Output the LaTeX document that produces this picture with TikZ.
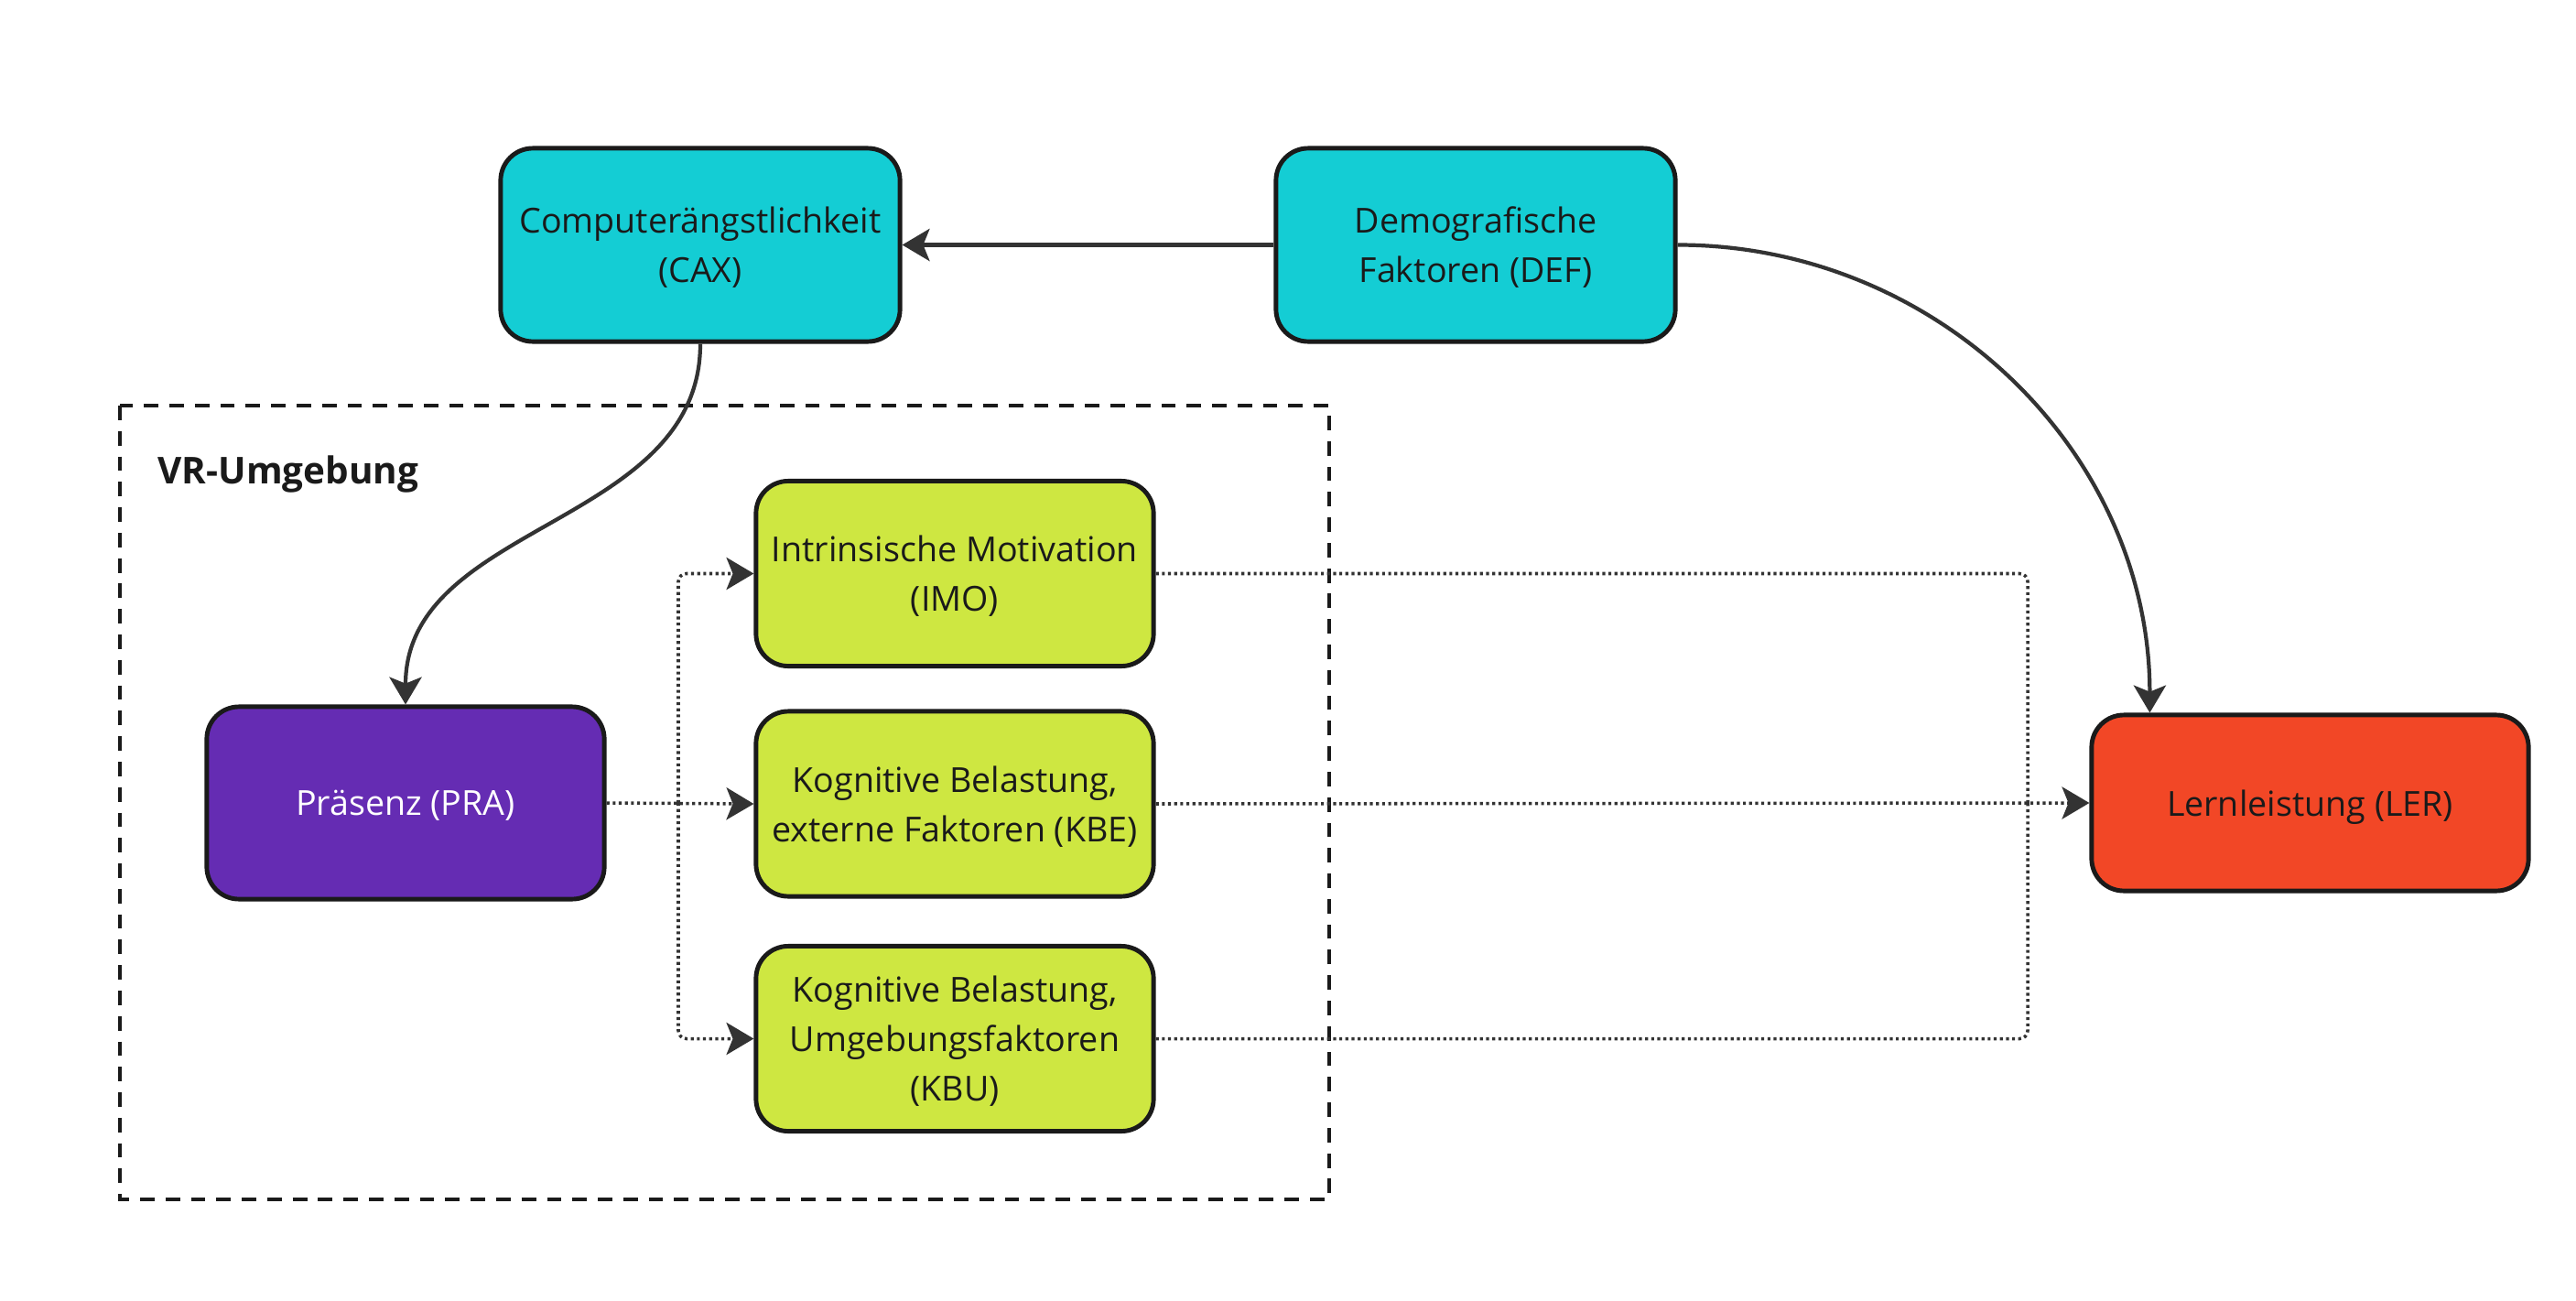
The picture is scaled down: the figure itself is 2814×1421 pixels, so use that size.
\documentclass[tikz,border=0pt]{standalone}
\usepackage{fontspec}
\setmainfont{Open Sans}
\usetikzlibrary{arrows.meta,calc}
\definecolor{cyanbox}{HTML}{14CDD4}
\definecolor{limebox}{HTML}{CEE741}
\definecolor{purplebox}{HTML}{652CB3}
\definecolor{redbox}{HTML}{F24726}
\definecolor{edge}{HTML}{1A1A1A}
\definecolor{conn}{HTML}{333333}
\begin{document}
\begin{tikzpicture}[x=0.01cm,y=-0.01cm,
  box/.style={draw=edge, line width=1.4pt, rounded corners=10pt, align=center,
    font=\fontsize{10.7pt}{15.4pt}\selectfont, text=edge, inner sep=0pt, text depth=0pt},
  cyanb/.style={box, fill=cyanbox, minimum width=4.36cm, minimum height=2.11cm},
  limeb/.style={box, fill=limebox, minimum width=4.34cm, minimum height=2.02cm},
  tip/.style={-{Stealth[length=8.5pt,width=10pt,inset=2pt]}},
  solidc/.style={draw=conn, line width=1.2pt, tip},
  dotc/.style={draw=conn, line width=1pt, dash pattern=on 0.9pt off 1pt, rounded corners=2.5pt},
  frame/.style={draw=edge, line width=1.15pt, dash pattern=on 4.5pt off 3.4pt}
]
\useasboundingbox (0,0) rectangle (2814,1421);
\fill[white] (0,0) rectangle (2814,1421);

% dashed VR frame
\draw[frame] (131,443) rectangle (1452,1310);
\node[anchor=west, font=\fontsize{11.5pt}{14pt}\selectfont\bfseries, text=edge, inner sep=0pt] (vr) at (172,518) {VR-Umgebung};

% nodes
\node[cyanb] (CAX) at (765,267.5) {Computerängstlichkeit\\(CAX)};
\node[cyanb] (DEF) at (1612,267.5) {Demografische\\Faktoren (DEF)};
\node[limeb] (IMO) at (1043,626.5) {Intrinsische Motivation\\(IMO)};
\node[limeb] (KBE) at (1043,878) {Kognitive Belastung,\\externe Faktoren (KBE)};
\node[limeb] (KBU) at (1043,1134.5) {Kognitive Belastung,\\Umgebungsfaktoren\\(KBU)};
\node[box, fill=purplebox, text=white, minimum width=4.34cm, minimum height=2.1cm] (PRA) at (443,877) {Präsenz (PRA)};
\node[box, fill=redbox, minimum width=4.77cm, minimum height=1.92cm] (LER) at (2523.5,877) {Lernleistung (LER)};

% solid connectors
\draw[solidc] (DEF.west) -- (CAX.east);
\draw[solidc] (DEF.east) to[out=0,in=90] ($(LER.north west)+(66,0)$);
\draw[solidc] (CAX.south) to[out=-90,in=90] (PRA.north);

% dotted connectors left
\coordinate (br) at (741,877);
\draw[dotc, tip] (PRA.east) -- (KBE.west);
\draw[dotc, tip] (br) |- (IMO.west);
\draw[dotc, tip] (br) |- (KBU.west);

% dotted connectors right
\coordinate (jn) at (2215,877);
\draw[dotc] (IMO.east) -| (jn);
\draw[dotc] (KBU.east) -| (jn);
\draw[dotc, tip] (KBE.east) -- (LER.west);
\end{tikzpicture}
\end{document}
